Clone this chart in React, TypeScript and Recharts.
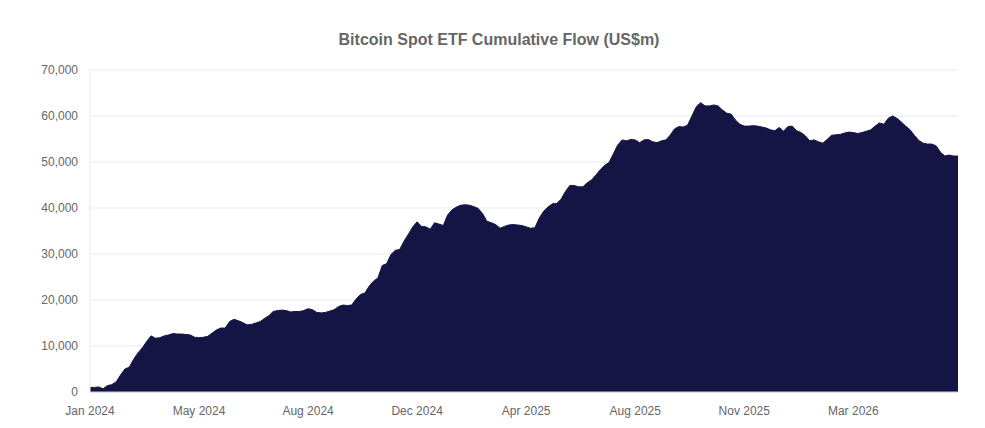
import { Area, AreaChart, CartesianGrid, XAxis, YAxis } from "recharts";

// cumulative net flow, one reading every ~4.4px of the plot (US$m)
const flows = [
  1000, 1000, 1100, 700, 1400, 1600, 2200, 3700, 5000, 5400,
  7100, 8500, 9600, 11000, 12200, 11700, 11800, 12200, 12400, 12700,
  12600, 12600, 12500, 12400, 11900, 11800, 11900, 12100, 12800, 13500,
  13900, 13900, 15300, 15800, 15500, 15100, 14600, 14700, 15000, 15300,
  16000, 16600, 17500, 17700, 17800, 17700, 17400, 17500, 17500, 17700,
  18100, 17900, 17300, 17200, 17300, 17600, 17900, 18600, 18900, 18800,
  18900, 20200, 21200, 21500, 23000, 24100, 24800, 27500, 27900, 29900,
  30800, 31000, 32800, 34300, 35900, 37000, 36000, 35900, 35400, 36800,
  36500, 36200, 38500, 39600, 40200, 40600, 40700, 40600, 40300, 39900,
  38800, 37100, 36800, 36400, 35600, 36000, 36300, 36400, 36300, 36200,
  35900, 35600, 35700, 37800, 39300, 40200, 40900, 41000, 41900, 43600,
  44900, 44900, 44600, 44600, 45500, 46100, 47200, 48300, 49300, 49900,
  51800, 53700, 54800, 54600, 54900, 54800, 54200, 54800, 54900, 54400,
  54200, 54600, 54800, 55800, 57200, 57700, 57600, 58000, 60000, 62000,
  62900, 62200, 62200, 62400, 62200, 61300, 60600, 60400, 59100, 58200,
  57800, 57800, 57900, 57800, 57600, 57400, 57000, 56800, 57500, 56700,
  57700, 57800, 56800, 56400, 55700, 54600, 54800, 54400, 54100, 54900,
  55800, 55900, 56000, 56300, 56500, 56400, 56200, 56400, 56700, 57000,
  57800, 58500, 58200, 59500, 60000, 59500, 58700, 57800, 57000, 55800,
  54700, 54100, 53900, 53900, 53500, 52100, 51300, 51500, 51300, 51300,
];

const tickIndexes = [0, 25, 50, 75, 100, 125, 150, 175];
const tickLabels = ["Jan 2024", "May 2024", "Aug 2024", "Dec 2024", "Apr 2025", "Aug 2025", "Nov 2025", "Mar 2026"];
const yTicks = [0, 10000, 20000, 30000, 40000, 50000, 60000, 70000];

const data = flows.map((v, i) => ({ i, flow: v }));

const font = "'Liberation Sans', Arial, Helvetica, sans-serif";
const tickStyle = { fontSize: 12, fill: "#666666", fontFamily: font };

export default function App() {
  return (
    <div style={{ position: "absolute", left: 0, top: 0, width: 985, height: 428, background: "#fff" }}>
      <div
        style={{
          position: "absolute",
          top: 31,
          left: 0,
          width: 998,
          textAlign: "center",
          fontFamily: font,
          fontWeight: 700,
          fontSize: 16,
          color: "#666666",
        }}
      >
        Bitcoin Spot ETF Cumulative Flow (US$m)
      </div>
      <AreaChart width={985} height={428} data={data} margin={{ top: 70, right: 27, bottom: 0, left: 0 }}>
        <CartesianGrid stroke="#e6e9f5" vertical={false} />
        <XAxis
          dataKey="i"
          type="number"
          domain={[0, flows.length - 1]}
          ticks={tickIndexes}
          tickFormatter={(v) => tickLabels[tickIndexes.indexOf(v)] ?? ""}
          tick={tickStyle}
          tickLine={false}
          tickMargin={8}
          axisLine={{ stroke: "#ccd0e0" }}
          height={36}
        />
        <YAxis
          domain={[0, 70000]}
          ticks={yTicks}
          tickFormatter={(v) => Number(v).toLocaleString("en-US")}
          tick={tickStyle}
          tickLine={false}
          tickMargin={6}
          axisLine={{ stroke: "#e6e9f5" }}
          width={90}
        />
        <Area
          type="linear"
          dataKey="flow"
          stroke="#151545"
          strokeWidth={1}
          fill="#151545"
          fillOpacity={1}
          isAnimationActive={false}
        />
      </AreaChart>
    </div>
  );
}
